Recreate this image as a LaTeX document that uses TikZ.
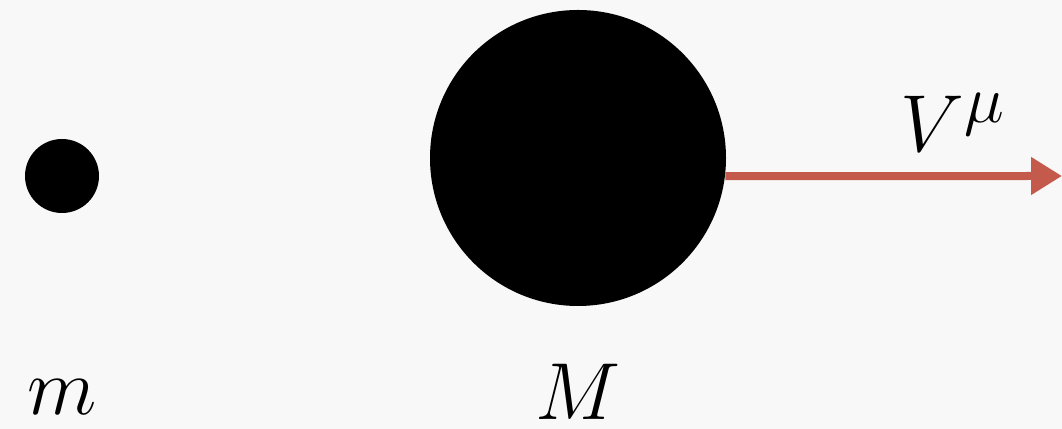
\documentclass[tikz,border=0pt]{standalone}
\usetikzlibrary{arrows.meta}
\definecolor{fondo}{HTML}{F8F8F8}
\definecolor{rosso}{HTML}{C45A4C}
\tikzset{
    massa/.style={circle, fill=black, inner sep=0pt},
    etichetta/.style={inner sep=0pt, font=\Huge, scale=1.85}
}
\begin{document}
\begin{tikzpicture}
    % Sfondo e dimensioni del disegno
    \fill[fondo] (0,0) rectangle (21.24,8.58);
    \useasboundingbox (0,0) rectangle (21.24,8.58);

    % Le due masse
    \node[massa, minimum size=1.48cm] (m) at (1.24,5.06) {};
    \node[massa, minimum size=5.92cm] (M) at (11.56,5.42) {};

    % Etichette delle masse
    \node[etichetta, anchor=base] (lblm) at (1.24,0.28) {$m$};
    \node[etichetta, anchor=base] (lblM) at (11.56,0.18) {$M$};

    % Velocita' della massa grande
    \coordinate (punta) at (21.24,5.06);
    \draw[rosso, line width=0.16cm, -{Triangle[length=0.62cm,width=0.72cm]}] (M.-7) -- (punta);
    \node[etichetta, anchor=base west] (lblV) at (18.0,5.54) {$V^\mu$};

\end{tikzpicture}
\end{document}
